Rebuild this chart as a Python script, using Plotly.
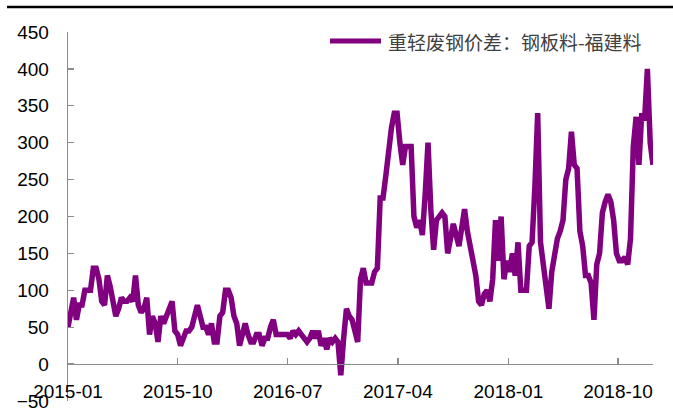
import pandas as pd
import plotly.graph_objects as go

series_name = "重轻废钢价差：钢板料-福建料"
start_date = "2015-01-01"
# weekly readings of the price spread (yuan/ton)
spread = [
    50, 68, 90, 60, 80, 80, 100, 100, 100, 130,
    130, 115, 85, 80, 120, 105, 85, 65, 75, 90,
    85, 85, 90, 85, 120, 80, 70, 75, 90, 40,
    65, 55, 30, 65, 55, 65, 80, 85, 45, 40,
    25, 35, 45, 45, 50, 65, 80, 65, 50, 50,
    40, 55, 30, 30, 65, 70, 100, 100, 90, 65,
    55, 25, 40, 55, 40, 30, 30, 40, 40, 25,
    35, 35, 50, 60, 40, 40, 40, 40, 40, 35,
    45, 40, 45, 40, 35, 30, 35, 45, 35, 45,
    25, 35, 20, 35, 30, 35, 30, -15, 35, 75,
    65, 60, 45, 30, 115, 130, 110, 110, 110, 125,
    130, 225, 225, 255, 290, 320, 340, 340, 300, 270,
    295, 295, 295, 200, 185, 195, 175, 230, 300, 210,
    155, 195, 200, 205, 200, 150, 170, 190, 175, 160,
    185, 210, 180, 160, 140, 120, 85, 80, 95, 100,
    85, 115, 195, 140, 200, 115, 140, 125, 150, 120,
    165, 100, 100, 100, 160, 165, 240, 340, 165, 130,
    110, 75, 125, 150, 170, 180, 195, 250, 265, 315,
    270, 265, 180, 160, 120, 120, 110, 60, 135, 150,
    205, 220, 230, 220, 195, 150, 140, 140, 145, 135,
    170, 295, 335, 270, 340, 330, 400, 300, 270,
]
dates = pd.date_range(start_date, periods=len(spread), freq="7D")

x_tick_vals = ["2015-01-01", "2015-10-01", "2016-07-01", "2017-04-01", "2018-01-01", "2018-10-01"]
x_tick_text = ["2015-01", "2015-10", "2016-07", "2017-04", "2018-01", "2018-10"]
y_tick_vals = [-50, 0, 50, 100, 150, 200, 250, 300, 350, 400, 450]

LINE_COLOR = "#800080"
AXIS_COLOR = "#8c8c8c"
FONT = "Liberation Sans, Arial, sans-serif"

fig = go.Figure()
fig.add_trace(go.Scatter(
    x=dates, y=spread, mode="lines", name=series_name,
    line=dict(color=LINE_COLOR, width=5.5),
    showlegend=False,
))

W, H = 673, 419
L, R, T, B = 68, 20, 32, 18
pw, ph = W - L - R, H - T - B

def px(xp):
    return (xp - L) / pw

def py(yp):
    return (H - B - yp) / ph

fig.update_layout(
    width=W, height=H,
    margin=dict(l=L, r=R, t=T, b=B, autoexpand=False),
    plot_bgcolor="white", paper_bgcolor="white",
    font=dict(family=FONT, size=19, color="black"),
    xaxis=dict(
        type="date",
        range=["2015-01-01", "2018-12-27"],
        tickvals=x_tick_vals, ticktext=x_tick_text,
        showgrid=False, zeroline=False, automargin=False,
        showline=True, linecolor=AXIS_COLOR, linewidth=1.3,
        ticks="inside", ticklen=6, tickcolor=AXIS_COLOR, tickwidth=1.3,
        anchor="free", position=0.1,
        ticklabelstandoff=10,
        tickfont=dict(family=FONT, size=19, color="black"),
    ),
    yaxis=dict(
        range=[-50, 450],
        tickvals=y_tick_vals,
        showgrid=False, zeroline=False, automargin=False,
        showline=True, linecolor=AXIS_COLOR, linewidth=1.3,
        ticks="inside", ticklen=6, tickcolor=AXIS_COLOR, tickwidth=1.3,
        ticklabelstandoff=14,
        tickfont=dict(family=FONT, size=19, color="black"),
    ),
)

# top rule of the report
fig.add_shape(type="line", xref="paper", yref="paper",
              x0=px(7), x1=px(673), y0=py(7), y1=py(7),
              line=dict(color="black", width=2.5))

# legend (manual)
fig.add_shape(type="line", xref="paper", yref="paper",
              x0=px(330), x1=px(381), y0=py(41), y1=py(41),
              line=dict(color=LINE_COLOR, width=5))
fig.add_annotation(xref="paper", yref="paper", x=px(386), y=py(41),
                   xanchor="left", yanchor="middle", showarrow=False,
                   text=series_name,
                   font=dict(family="Noto Sans CJK SC, sans-serif", size=19, color="#404040"))

fig.write_html(
    "out.html",
    config={"displayModeBar": False, "staticPlot": True},
    post_script="document.body.style.margin='0';document.body.style.overflow='hidden';",
)
